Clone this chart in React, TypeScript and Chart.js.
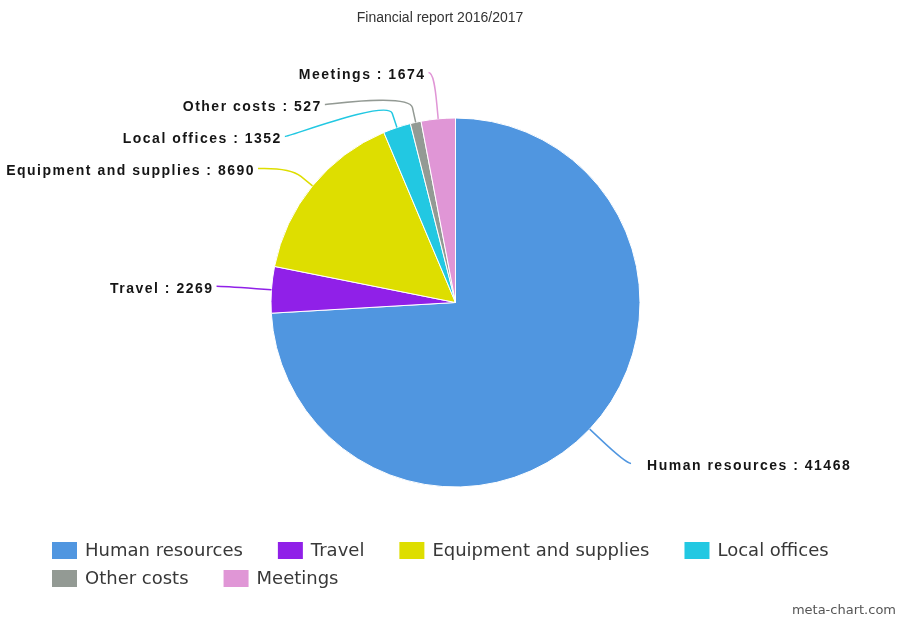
import React, { useEffect, useRef } from "react";
import { Chart, ArcElement, PieController } from "chart.js";

Chart.register(ArcElement, PieController);

const categories = [
  "Human resources",
  "Travel",
  "Equipment and supplies",
  "Local offices",
  "Other costs",
  "Meetings",
];
const amounts = [41468, 2269, 8690, 1352, 527, 1674];
const sliceColors = ["#5096e0", "#9020e8", "#dede00", "#22c8e2", "#939a94", "#e096d6"];
const chartTitle = "Financial report 2016/2017";
const creditText = "meta-chart.com";

const W = 897;
const H = 619;

const labelPlugin = {
  id: "pieLabels",
  afterDatasetsDraw(chart: any) {
    const ctx: CanvasRenderingContext2D = chart.ctx;
    const meta = chart.getDatasetMeta(0);
    const items = meta.data.map((arc: any, i: number) => {
      const p = arc.getProps(["x", "y", "startAngle", "endAngle", "outerRadius"], true);
      const mid = (p.startAngle + p.endAngle) / 2;
      const r = p.outerRadius;
      const R = r + 50;
      const left = Math.cos(mid) < 0;
      const naturalY = p.y + R * Math.sin(mid);
      return { i, mid, r, R, left, naturalY, y: naturalY, cx: p.x, cy: p.y };
    });
    const topLimit = chart.chartArea.top - 45;
    const bottomLimit = chart.chartArea.bottom + 45;
    const gap = 32;
    for (const side of [true, false]) {
      const group = items
        .filter((it: any) => it.left === side)
        .sort((a: any, b: any) => a.naturalY - b.naturalY);
      let prev = -Infinity;
      group.forEach((it: any) => {
        it.y = Math.max(it.naturalY, topLimit, prev + gap);
        prev = it.y;
      });
      let next = Infinity;
      for (let k = group.length - 1; k >= 0; k--) {
        const it = group[k];
        it.y = Math.min(it.y, bottomLimit, next - gap);
        next = it.y;
      }
    }
    ctx.save();
    items.forEach((it: any) => {
      const sign = it.left ? -1 : 1;
      const yForX = it.y <= topLimit + 2 || it.y >= bottomLimit - 2 ? it.naturalY : it.y;
      const dy = Math.max(-it.R, Math.min(it.R, yForX - it.cy));
      const dx = Math.sqrt(it.R * it.R - dy * dy);
      const ax = it.cx + sign * (dx + 5);
      const ay = it.y;
      const cos = Math.cos(it.mid);
      const sin = Math.sin(it.mid);
      const tx = it.cx + it.r * cos;
      const ty = it.cy + it.r * sin;
      const bx = it.cx + (it.r + 15) * cos;
      const by = it.cy + (it.r + 15) * sin;
      ctx.beginPath();
      ctx.moveTo(ax, ay);
      ctx.bezierCurveTo(ax - sign * 5, ay, 2 * bx - tx, 2 * by - ty, bx, by);
      ctx.lineTo(tx, ty);
      ctx.strokeStyle = sliceColors[it.i];
      ctx.lineWidth = 1.5;
      ctx.stroke();

      const text = `${categories[it.i]} : ${amounts[it.i]}`;
      ctx.font = "bold 14px 'Liberation Sans', Arial, sans-serif";
      (ctx as any).letterSpacing = "1.5px";
      ctx.fillStyle = "#151515";
      ctx.textBaseline = "middle";
      if (it.left) {
        ctx.textAlign = "right";
        ctx.fillText(text, ax - 3, ay + 3);
      } else {
        ctx.textAlign = "left";
        ctx.fillText(text, ax + 16, ay + 3);
      }
      (ctx as any).letterSpacing = "0px";
    });
    ctx.restore();
  },
};

const decorPlugin = {
  id: "decor",
  afterDraw(chart: any) {
    const ctx: CanvasRenderingContext2D = chart.ctx;
    ctx.save();
    // title
    ctx.font = "14px 'Liberation Sans', Arial, sans-serif";
    ctx.fillStyle = "#333";
    ctx.textAlign = "center";
    ctx.textBaseline = "middle";
    ctx.fillText(chartTitle, 440, 18.5);

    // legend
    ctx.font = "18px 'DejaVu Sans', sans-serif";
    ctx.textAlign = "left";
    const boxW = 25;
    const boxH = 17;
    const startX = 52;
    const rowYs = [550.5, 578.5];
    let x = startX;
    let row = 0;
    categories.forEach((name, i) => {
      const tw = ctx.measureText(name).width;
      const itemW = boxW + 9 + tw;
      if (x !== startX && x + itemW > W - 40) {
        row++;
        x = startX;
      }
      const cy = rowYs[row] ?? rowYs[0] + row * 28;
      ctx.fillStyle = sliceColors[i];
      ctx.fillRect(x, cy - boxH / 2, boxW, boxH);
      ctx.fillStyle = "#383838";
      ctx.fillText(name, x + boxW + 8, cy + 1);
      x += itemW + 34;
    });

    // credit
    ctx.font = "13px 'DejaVu Sans', sans-serif";
    ctx.fillStyle = "#555";
    ctx.textAlign = "right";
    ctx.fillText(creditText, 896, 611);
    ctx.restore();
  },
};

export default function App() {
  const canvasRef = useRef<HTMLCanvasElement | null>(null);
  useEffect(() => {
    if (!canvasRef.current) return;
    const chart = new Chart(canvasRef.current, {
      type: "pie",
      data: {
        labels: categories,
        datasets: [
          {
            data: amounts,
            backgroundColor: sliceColors,
            borderColor: "#ffffff",
            borderWidth: 1,
            hoverOffset: 0,
            offset: 0,
          },
        ],
      },
      options: {
        responsive: false,
        animation: false,
        events: [],
        layout: {
          padding: { left: 270.5, right: 256.5, top: 117.5, bottom: 131.5 },
        },
        plugins: {
          legend: { display: false },
          title: { display: false },
          tooltip: { enabled: false },
        },
      },
      plugins: [labelPlugin, decorPlugin],
    });
    return () => chart.destroy();
  }, []);
  return (
    <div style={{ position: "fixed", left: 0, top: 0, width: W, height: H, background: "#fff" }}>
      <canvas ref={canvasRef} width={W} height={H} style={{ display: "block" }} />
    </div>
  );
}
